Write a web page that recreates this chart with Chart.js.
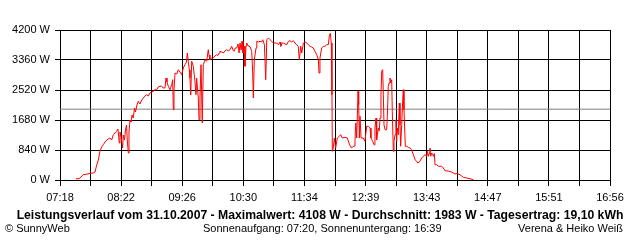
<!DOCTYPE html>
<html>
<head>
<meta charset="utf-8">
<script src="https://cdn.jsdelivr.net/npm/chart.js@4.4.0/dist/chart.umd.min.js"></script>
<style>
  body { margin: 0; background: #fff; }
</style>
</head>
<body>
<canvas id="myChart" width="640" height="240"></canvas>
<script>
// time of each sample, minutes after midnight
const minutes = [454.8,458,460,462.5,465.3,469.5,472.7,474.8,476.6,478.3,480,481.8,483.5,485.3,487.1,488.8,490.5,492.3,494,495.7,497.5,498.9,500.3,501,502,503.8,504.5,505.8,506.8,507.9,508.7,509.8,510.5,511.6,512.6,513.7,515,516.3,517.3,518.9,520.3,522,523.9,525.5,527.3,529.1,530.8,532.6,534.3,536,537.8,539.6,541.3,543.1,544.8,546.6,548.3,549.4,550.4,551.8,553.6,555.4,556.4,557.1,557.8,558.9,560.7,562.3,564.1,565.9,567.6,569.3,570.9,571.8,572.8,573.9,574.6,575.4,576.4,578.1,579.8,580.9,581.6,583.3,584.1,585.1,586.2,587.5,588.6,590.4,592.2,593.8,594.6,595.6,597.4,599.1,600.8,602.6,603.9,605.4,606.1,607.9,609.6,611.3,613.1,614.9,616.7,618.4,619.8,620.9,622.2,623.7,625.1,626.2,627.2,628.3,629.3,630.3,631.4,632.4,633.5,634.2,635.9,637.7,639.5,640.5,641.2,642.2,644,644.8,646.5,648.2,649.8,651.1,652.8,654.2,655.3,657,658.7,660.5,662.2,664,665.8,667.5,669.2,670,671.4,672.7,674.5,676.3,678,679.7,681.5,683.2,685,686.7,688.4,689.5,691,692,693.8,695.5,697.3,699,700.7,702.5,704.2,706,707.8,709.5,710.2,711.2,713,714.7,716.5,718.2,720,721,722.1,723.1,723.8,724.2,725.2,726.3,727.7,729.4,731.5,733,734.7,737.5,739.9,741.7,743.5,745.2,747,748,748.8,749.8,751.2,751.9,752.6,753.3,754.4,756.7,758.5,760.3,762,763.8,764.8,766.6,768,769,770.1,770.8,772.5,773.5,774.3,775.3,776.1,777.1,777.8,778.5,779.6,781.3,782,783,783.8,784.8,785.6,786.6,787.2,788.3,789,790.1,791.1,791.8,792.5,793.5,794.6,795.3,796,797.1,798.1,798.8,799.5,800.2,800.9,802.3,804,805.8,807.6,808.6,810,811.1,812.9,813.9,816.3,818.1,819.8,821.6,823.4,824,825.1,826.1,826.8,827.6,828.6,829.7,830.3,831.4,832.1,833.9,835.6,839.1,840.8,842.6,846,849.6,853.1,855.5,858.4,861.8,865.4,868.9,872.4];

// power in W
const watts = [36,36,84,154,160,182,196,224,420,560,804,924,988,1064,1120,1148,1176,1120,1268,1316,1364,1428,1036,1344,1232,896,1260,1120,1400,1540,1120,756,1344,1680,1624,1820,1736,2016,1904,2100,2204,2128,2240,2296,2352,2388,2352,2436,2464,2484,2528,2528,2604,2624,2632,2576,2576,2856,2744,2624,2528,2668,2808,1968,2520,2996,2968,3088,3024,2948,3136,3228,3304,3556,3324,3080,2856,2380,3324,3184,2764,2388,2856,2296,1688,2296,3228,1596,3228,3368,3324,3648,3500,3368,3416,3416,3472,3508,3486,3556,3604,3584,3556,3612,3648,3612,3648,3744,3640,3604,3696,3696,3808,3556,3836,3640,3892,3556,3752,3184,3752,3836,3752,3732,3604,2996,2296,3360,3696,3884,3864,3884,3864,3928,3788,2808,3928,3976,3928,3884,3836,3836,3836,3788,3864,3744,3836,3836,3808,3788,3884,3900,3864,3900,3836,3788,3744,3368,3744,3556,3836,3864,3836,3788,3744,3724,3696,3604,3508,3368,2996,3416,3696,3744,3744,3788,3788,4024,4108,3836,2388,804,896,1176,896,1176,1224,1268,1176,1196,1176,1036,916,916,952,1084,1596,1176,2484,2108,1176,1784,1176,1176,1084,1504,1504,1456,1176,1084,988,1456,1736,1128,1456,1372,1736,2388,3044,3088,2388,1548,1408,1408,1784,2624,2716,2856,2716,2808,1924,804,1084,1268,1688,1084,1456,1268,2156,1548,944,1548,2204,2528,1968,1456,944,944,916,896,848,756,664,568,524,476,524,616,664,708,664,804,664,756,896,664,756,714,664,742,428,428,384,384,336,260,252,224,168,182,148,76,56,36,8];

const average = 1983;
const xTickLabels = ["07:18","08:22","09:26","10:30","11:34","12:39","13:43","14:47","15:51","16:56"];
const yTicks = [0, 840, 1680, 2520, 3360, 4200];

const title = "Leistungsverlauf vom 31.10.2007 - Maximalwert: 4108 W - Durchschnitt: 1983 W - Tagesertrag: 19,10 kWh";
const sunText = "Sonnenaufgang: 07:20, Sonnenuntergang: 16:39";

function toMinutes(s) {
  const p = s.split(":");
  return +p[0] * 60 + +p[1];
}
const xMin = toMinutes(xTickLabels[0]);
const xMax = toMinutes(xTickLabels[xTickLabels.length - 1]);
const FONT = "'Liberation Sans', Arial, sans-serif";

const textPlugin = {
  id: "texts",
  afterDraw(chart) {
    const ctx = chart.ctx;
    ctx.save();
    ctx.fillStyle = "#000";
    ctx.textBaseline = "middle";
    ctx.font = "bold 12px " + FONT;
    // stretch the title to the width it has in the original
    const w = ctx.measureText(title).width;
    ctx.font = "bold " + (12 * 607 / w).toFixed(2) + "px " + FONT;
    ctx.textAlign = "center";
    ctx.fillText(title, 320, 216);
    ctx.font = "11px " + FONT;
    ctx.textAlign = "left";
    ctx.fillText("\u00A9 SunnyWeb", 5, 229);
    ctx.fillText(sunText, 203, 229);
    ctx.textAlign = "right";
    ctx.fillText("Verena & Heiko Wei\u00DF", 623, 229);
    ctx.restore();
  }
};

Chart.defaults.font.family = FONT;
Chart.defaults.font.size = 11;
Chart.defaults.color = "#000";

const ctx = document.getElementById("myChart");
const myChart = new Chart(ctx, {
  type: "line",
  data: {
    datasets: [
      {
        data: minutes.map((m, i) => ({ x: m, y: watts[i] })),
        borderColor: "#ff0000",
        borderWidth: 1,
        pointRadius: 0,
        tension: 0,
      },
      {
        data: [{ x: xMin, y: average }, { x: xMax, y: average }],
        borderColor: "#808080",
        borderWidth: 1,
        pointRadius: 0,
      },
    ],
  },
  options: {
    responsive: false,
    animation: false,
    devicePixelRatio: 1,
    layout: { padding: { top: 30, right: 30, left: 0, bottom: 0 } },
    plugins: {
      legend: { display: false },
      tooltip: { enabled: false },
    },
    scales: {
      x: {
        type: "linear",
        min: xMin,
        max: xMax,
        afterFit(scale) { scale.height = 60; },
        afterBuildTicks(scale) {
          const t = [];
          for (let i = 0; i <= 18; i++) t.push({ value: xMin + i * (xMax - xMin) / 18 });
          scale.ticks = t;
        },
        grid: { color: "#000", tickLength: 6, drawTicks: true },
        border: { color: "#000" },
        ticks: {
          padding: 5,
          maxRotation: 0,
          autoSkip: false,
          callback: (v, i) => (i % 2 === 0 ? xTickLabels[i / 2] : ""),
        },
      },
      y: {
        min: 0,
        max: 4200,
        afterFit(scale) { scale.width = 60; },
        afterBuildTicks(scale) {
          scale.ticks = yTicks.map(v => ({ value: v }));
        },
        grid: { color: "#000", tickLength: 5 },
        border: { color: "#000" },
        ticks: {
          padding: 5,
          callback: v => v + " W",
        },
      },
    },
  },
  plugins: [textPlugin],
});
</script>
</body>
</html>
